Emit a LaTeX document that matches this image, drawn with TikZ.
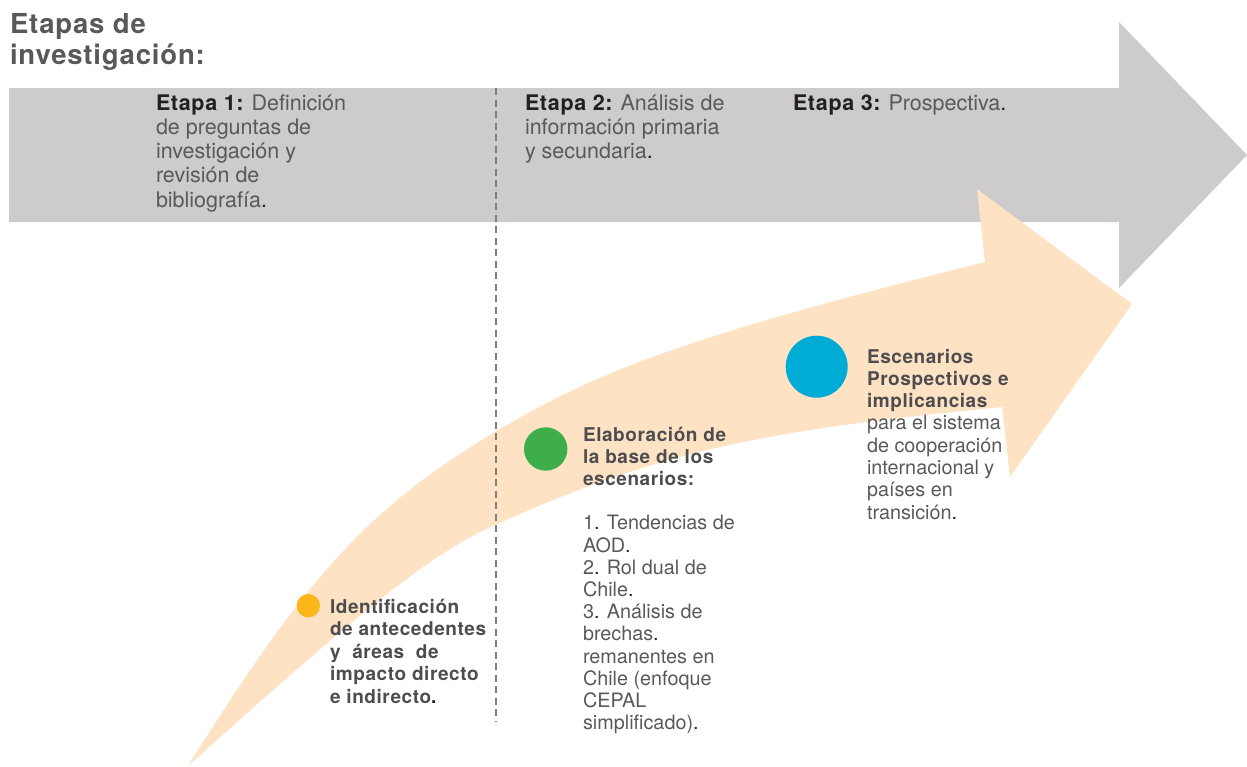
\documentclass[tikz,border=0pt]{standalone}
\usepackage{fontspec}
\setmainfont{TeX Gyre Heros}[BoldFeatures={LetterSpace=3}]
\definecolor{arrgray}{HTML}{CDCBCC}
\definecolor{peach}{HTML}{FDE2C4}
\definecolor{txtgray}{HTML}{58595B}
\definecolor{boldgray}{HTML}{4D4D4F}
\definecolor{ink}{HTML}{231F20}
\definecolor{dotyellow}{HTML}{FBB61A}
\definecolor{dotgreen}{HTML}{3EAE4A}
\definecolor{dotblue}{HTML}{00ACD6}
\definecolor{dashgray}{HTML}{7F7F7F}
\newcommand{\pd}{{\color{ink}.}}
\newcommand{\lns}[1]{\vtop{\lineskiplimit=-50pt\relax #1}}
\newcommand{\bl}[1]{\hbox{\bfseries\color{boldgray}#1}}
\newcommand{\stg}[1]{{\bfseries\addfontfeatures{LetterSpace=0}\color{ink}#1}}
\tikzset{
  txtbase/.style={anchor=base west, inner sep=0pt, outer sep=0pt},
  titletxt/.style={txtbase, text=txtgray, font=\fontsize{27.5}{31}\selectfont\bfseries},
  etapatxt/.style={txtbase, text=txtgray, font=\fontsize{21.5}{24.3}\selectfont},
  circtxt/.style={txtbase, text=txtgray, font=\fontsize{19.8}{22.3}\selectfont},
  dot/.style={circle, inner sep=0pt, draw=none},
  stagedash/.style={draw=dashgray, line width=1.3pt, dash pattern=on 7pt off 4.5pt}
}
\begin{document}
\begin{tikzpicture}[x=1pt,y=-1pt]
\useasboundingbox (0,0) rectangle (1247,766);
% grey stage arrow
\fill[arrgray] (9,88) -- (1119,88) -- (1119,22) -- (1247,155) -- (1119,288) -- (1119,222) -- (9,222) -- cycle;
% curved peach arrow
\fill[peach] (188,766) .. controls (308,574) and (369,507.6) .. (495,432)
  .. controls (603.6,366.9) and (701.6,332.9) .. (985,262)
  -- (977,189) -- (1132,304) -- (1010,477) -- (1002,407)
  .. controls (764.6,430.7) and (663.2,449.3) .. (495,525)
  .. controls (432.3,553.2) and (370.9,601.4) .. (188,766) -- cycle;
% dashed separator
\coordinate (dtop) at (496,88);
\coordinate (dbot) at (496,722);
\draw[stagedash] (dtop) -- (dbot);
% title
\node[titletxt] (title) at (10,33) {\lns{\hbox{Etapas de}\hbox{investigación:}}};
% stages
\node[etapatxt] (e1) at (156,110) {\lns{\hbox{\stg{Etapa 1:} Definición}\hbox{de preguntas de}\hbox{investigación y}\hbox{revisión de}\hbox{bibliografía\pd}}};
\node[etapatxt] (e2) at (525,110) {\lns{\hbox{\stg{Etapa 2:} Análisis de}\hbox{información primaria}\hbox{y secundaria\pd}}};
\node[etapatxt] (e3) at (793,110) {\lns{\hbox{\stg{Etapa 3:} Prospectiva\pd}}};
% dots
\node[dot, fill=dotyellow, minimum size=23.4pt] (c1) at (308.3,605.7) {};
\node[dot, fill=dotgreen, minimum size=43.4pt] (c2) at (545.7,449) {};
\node[dot, fill=dotblue, minimum size=62pt] (c3) at (816.7,366.7) {};
% dot texts
\node[circtxt, font=\fontsize{19}{22.5}\selectfont] (t1) at (330,613) {\lns{\bl{Identificación}\bl{de antecedentes}\bl{y\ \ áreas\ \ de}\bl{impacto directo}\bl{e indirecto\pd}}};
\node[circtxt, font=\fontsize{19.8}{22.2}\selectfont] (t2) at (583,441) {\lns{\bl{\fontsize{19}{22.2}\selectfont Elaboración de}\bl{\fontsize{19}{22.2}\selectfont la base de los}\bl{\fontsize{19}{22.2}\selectfont escenarios:}\hbox{}\hbox{1\pd{} Tendencias de}\hbox{AOD\pd}\hbox{2\pd{} Rol dual de}\hbox{Chile\pd}\hbox{3\pd{} Análisis de}\hbox{brechas\pd}\hbox{remanentes en}\hbox{Chile (enfoque}\hbox{CEPAL}\hbox{simplificado)\pd}}};
\node[circtxt] (t3) at (867,363) {\lns{\bl{\fontsize{19}{22.3}\selectfont Escenarios}\bl{\fontsize{19}{22.3}\selectfont Prospectivos e}\bl{\fontsize{19}{22.3}\selectfont implicancias}\hbox{para el sistema}\hbox{de cooperación}\hbox{internacional y}\hbox{países en}\hbox{transición\pd}}};
\end{tikzpicture}
\end{document}
